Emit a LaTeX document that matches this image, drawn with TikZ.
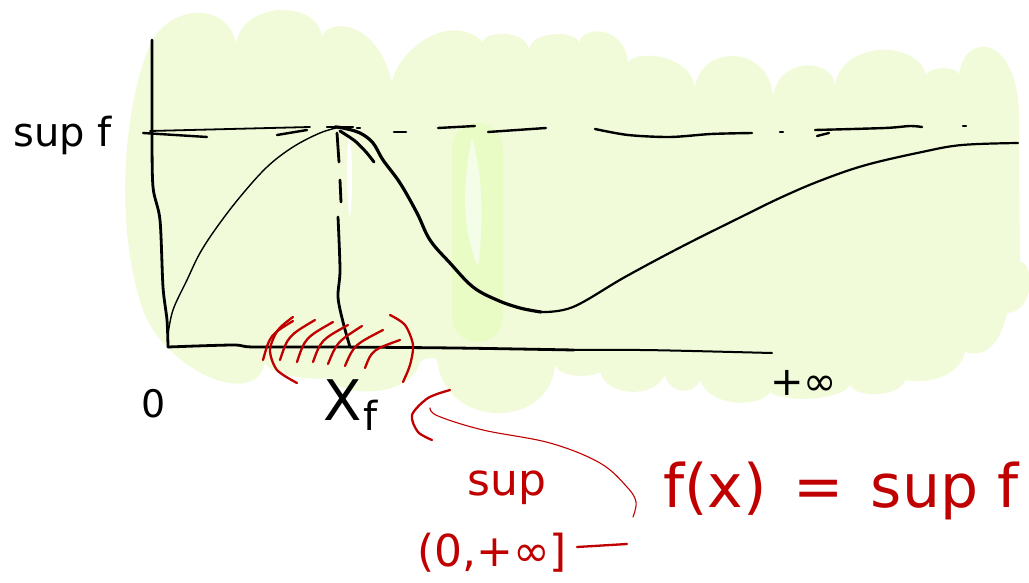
\documentclass[tikz,border=0pt]{standalone}
\usepackage{fontspec}
\setmainfont{DejaVu Sans}
\definecolor{blob}{HTML}{F1FBD9}
\definecolor{pill}{HTML}{E9FCC6}
\definecolor{lens}{HTML}{F4FDE7}
\definecolor{redink}{HTML}{C00000}
\newcommand{\fsz}[1]{\fontsize{#1}{#1}\selectfont}
\begin{document}
\begin{tikzpicture}[x=1pt,y=-1pt,line cap=round,line join=round,
  axisline/.style={draw=black,line width=2.8pt},
  thinline/.style={draw=black,line width=1.4pt},
  dashseg/.style={draw=black,line width=2.4pt},
  redstroke/.style={draw=redink,line width=2.3pt},
  redthin/.style={draw=redink,line width=1.1pt},
  lbl/.style={inner sep=0pt,anchor=base west},
  redlbl/.style={lbl,text=redink}]
\useasboundingbox (0,0) rectangle (1029,583);
% green background blob (scalloped cloud)
\fill[blob] (143,310)
 .. controls (115,230) and (122,110) .. (150,45)
 .. controls (167,6) and (226,-1) .. (236,43)
 .. controls (244,0) and (318,0) .. (322,37)
 .. controls (325,20) and (375,15) .. (392,82)
 .. controls (398,50) and (450,10) .. (483,42)
 .. controls (485,30) and (527,30) .. (529,50)
 .. controls (531,30) and (577,30) .. (579,43)
 .. controls (582,25) and (625,25) .. (628,63)
 .. controls (632,50) and (690,52) .. (695,88)
 .. controls (700,44) and (770,44) .. (773,97)
 .. controls (778,56) and (833,58) .. (835,85)
 .. controls (842,40) and (918,40) .. (926,75)
 .. controls (930,66) and (955,66) .. (959,74)
 .. controls (965,30) and (1020,35) .. (1019,120)
 -- (1020,262)
 .. controls (1035,262) and (1035,312) .. (1007,313)
 .. controls (1000,345) and (985,358) .. (965,352)
 .. controls (960,375) and (930,385) .. (905,380)
 .. controls (900,398) and (855,398) .. (850,385)
 .. controls (840,402) and (780,402) .. (770,392)
 .. controls (760,408) and (710,408) .. (700,380)
 .. controls (695,395) and (670,395) .. (665,375)
 .. controls (655,398) and (608,398) .. (600,372)
 .. controls (590,378) and (560,378) .. (555,365)
 .. controls (550,430) and (445,430) .. (437,360)
 .. controls (432,356) and (425,358) .. (420,362)
 .. controls (412,398) and (340,398) .. (330,378)
 .. controls (320,380) and (272,378) .. (265,363)
 .. controls (255,410) and (165,370) .. (143,310) -- cycle;
% brighter vertical band
\fill[pill,rounded corners=25pt] (452,123) rectangle (503,342);
\fill[lens] (472,137) .. controls (462,185) and (462,230) .. (478,267) .. controls (484,220) and (483,180) .. (472,137) -- cycle;
\fill[white] (349,130) .. controls (345,170) and (347,200) .. (350,220) .. controls (353,190) and (353,160) .. (349,130) -- cycle;
% axes
\draw[axisline] plot[smooth,tension=0.5] coordinates {(152,40) (152,130) (153,187) (160,220) (163,287) (167,320) (168,347)};
\draw[axisline] plot[smooth,tension=0.5] coordinates {(168,347) (233,345) (253,347) (333,347) (455,348) (574,350)};
\draw[line width=2pt] plot[smooth,tension=0.5] coordinates {(574,350) (640,350) (692,351) (772,353)};
% sup f level line (dashed, freehand)
\draw[dashseg] (143,133) -- (207,137);
\draw[line width=1.8pt] (150,131) -- (310,127);
\draw[dashseg] (277,135) -- (307,130);
\draw[dashseg] (327,127) -- (353,127);
\draw[dashseg] (357,128) -- (360,128);
\draw[dashseg] (394,132) -- (406,132);
\draw[dashseg] (438,128) -- (475,126);
\draw[dashseg] (488,132) -- (546,128);
\draw[dashseg] plot[smooth] coordinates {(595,129) (628,135) (670,137) (711,134) (752,133)};
\draw[dashseg] (780,132) -- (783,132);
\draw[dashseg] plot[smooth] coordinates {(815,130) (885,128) (910,126) (922,127)};
\draw[dashseg] (817,136) -- (829,133);
\draw[dashseg] (963,126) -- (966,126);
% vertical dashed line at X_f
\draw[axisline] (337,133) -- (339,162);
\draw[axisline] (340,180) -- (341,202);
\draw[axisline] plot[smooth] coordinates {(338,217) (340,270) (338,297) (343,322) (350,347)};
% rising curve
\draw[thinline] plot[smooth,tension=0.6] coordinates {(168,335) (173,310) (187,280) (200,253) (217,227) (240,197) (267,167) (293,147) (320,133) (340,127)};
% falling curve
\draw[line width=3.2pt] plot[smooth,tension=0.6] coordinates {(335,127) (343,128) (360,133) (373,143) (383,160) (400,183) (417,213) (430,240) (450,263) (473,287) (497,300) (520,308) (541,312)};
\draw[line width=3pt] plot[smooth] coordinates {(340,131) (355,141) (366,152) (374,162)};
\draw[line width=2.2pt] plot[smooth,tension=0.6] coordinates {(541,312) (573,307) (625,277) (681,247) (741,217) (782,197) (822,180) (866,165) (922,152) (962,145) (1018,143)};
% red hatched region around X_f
\draw[redstroke] plot[smooth] coordinates {(293,317) (278,330) (270,350) (277,370) (297,383)};
\draw[redstroke] plot[smooth] coordinates {(390,315) (405,325) (413,345) (410,365) (403,382)};
\draw[redstroke] (263,360) .. controls (270,335) .. (293,321);
\draw[redstroke] (280,360) .. controls (288,336) .. (315,320);
\draw[redstroke] (297,362) .. controls (305,338) .. (333,322);
\draw[redstroke] (313,362) .. controls (321,340) .. (348,325);
\draw[redstroke] (328,364) .. controls (337,342) .. (362,326);
\draw[redstroke] (345,366) .. controls (354,345) .. (383,330);
\draw[redstroke] (365,368) .. controls (372,350) .. (400,340);
% black labels
\node[lbl] (supf) at (13,147) {\fsz{40}sup f};
\node[lbl] (zero) at (141,417) {\fsz{38}0};
\node[lbl] (xf) at (323,420) {\fsz{56}X};
\node[lbl] (xfsub) at (363,430) {\fsz{40}f};
\node[lbl] (plusinf) at (770,395) {\fsz{40}+∞};
% red labels
\node[redlbl] (redsup) at (467,495) {\fsz{44}sup};
\node[redlbl] (interval) at (417,566) {\fsz{44}(0,+∞]};
\node[redlbl] (eqn) at (663,507) {\fsz{60}f(x)\hspace{0.45em}=\hspace{0.45em}sup f};
\draw[redstroke] (577,547) -- (627,544);
% red curved pointer back to X_f
\coordinate (ptrend) at (633,517);
\coordinate (ptrtip) at (430,408);
\draw[redthin] plot[smooth,tension=0.6] coordinates {(ptrtip) (438,416) (483,430) (550,443) (600,463) (627,487) (636,502) (ptrend)};
\draw[redstroke] plot[smooth] coordinates {(450,390) (428,398) (412,415) (418,432) (432,440)};
\end{tikzpicture}
\end{document}
